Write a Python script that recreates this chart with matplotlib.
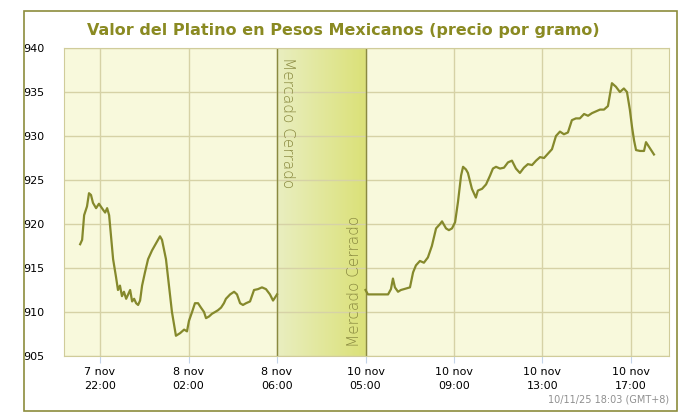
import matplotlib
matplotlib.use("Agg")
import matplotlib.pyplot as plt
import numpy as np
from matplotlib.patches import Rectangle
from matplotlib.colors import LinearSegmentedColormap

# hours relative to 7 nov 22:00 (closed period compressed to 4h between 8.0 and 12.0)
t1 = [-0.9,-0.81,-0.72,-0.59,-0.5,-0.41,-0.32,-0.18,-0.05,0.14,0.23,0.32,0.41,0.5,0.59,0.72,0.81,0.9,0.99,1.08,1.18,1.27,1.36,1.45,1.54,1.63,1.72,1.81,1.9,2.03,2.17,2.35,2.53,2.71,2.8,2.98,3.07,3.25,3.43,3.62,3.8,3.93,4.02,4.16,4.29,4.43,4.56,4.7,4.79,4.93,5.06,5.2,5.33,5.47,5.6,5.69,5.88,6.06,6.19,6.33,6.46,6.6,6.78,6.96,7.14,7.32,7.5,7.68,7.82,7.95,8.0]
v1 = [917.7,918.2,921,922,923.5,923.3,922.4,921.8,922.3,921.6,921.3,921.8,921,918.5,916,914,912.5,913,911.8,912.3,911.5,912,912.5,911.2,911.5,911,910.8,911.3,913,914.5,916,917,917.8,918.6,918.2,916,914,910,907.3,907.6,908,907.8,909,910,911,911,910.5,910,909.3,909.5,909.8,910,910.2,910.5,911,911.5,912,912.3,912,911,910.8,911,911.2,912.5,912.6,912.8,912.6,912,911.3,911.8,912]
t2 = [12.0,12.11,12.29,12.47,12.66,12.84,13.02,13.15,13.24,13.33,13.47,13.6,13.74,14.01,14.15,14.28,14.46,14.64,14.82,15.0,15.19,15.37,15.46,15.64,15.77,15.91,16.05,16.18,16.32,16.41,16.54,16.63,16.81,16.99,17.08,17.27,17.45,17.63,17.76,17.9,18.08,18.26,18.44,18.62,18.8,18.98,19.16,19.34,19.53,19.71,19.89,20.07,20.25,20.43,20.61,20.79,20.97,21.15,21.33,21.51,21.69,21.88,22.06,22.24,22.42,22.6,22.78,22.96,23.14,23.32,23.5,23.68,23.82,23.95,24.05,24.14,24.23,24.41,24.59,24.68,24.86,25.04]
v2 = [912.5,912,912,912,912,912,912,912.6,913.8,912.8,912.3,912.5,912.6,912.8,914.5,915.3,915.8,915.6,916.2,917.5,919.5,920,920.3,919.5,919.3,919.5,920.2,922.5,925.5,926.5,926.2,925.8,924,923,923.8,924,924.5,925.5,926.3,926.5,926.3,926.4,927,927.2,926.3,925.8,926.4,926.8,926.7,927.2,927.6,927.5,928,928.5,930,930.5,930.2,930.4,931.8,932,932,932.5,932.3,932.6,932.8,933,933,933.4,936,935.6,935,935.4,935,933,931,929.5,928.4,928.3,928.3,929.3,928.6,927.9]
tick_pos = [0, 4, 8, 12, 16, 20, 24]
tick_labels = ["7 nov\n22:00", "8 nov\n02:00", "8 nov\n06:00", "10 nov\n05:00", "10 nov\n09:00", "10 nov\n13:00", "10 nov\n17:00"]
closed = (8.0, 12.0)

olive = "#85892c"
fig = plt.figure(figsize=(6.87, 4.16), dpi=100)
fig.patches.append(Rectangle((24/687, 5/416), 653/687, 400/416, transform=fig.transFigure,
                             fill=False, edgecolor="#8c8c3c", lw=1.2))
ax = fig.add_axes([64/687, 60/416, 605/687, 308/416])
ax.set_facecolor("#f8f9dc")
ax.set_xlim(-1.63, 25.72)
ax.set_ylim(905, 940)
grad = np.linspace(0, 1, 100).reshape(1, -1)
cm = LinearSegmentedColormap.from_list("g", ["#e9eec0", "#dbe178"])
ax.imshow(grad, extent=[closed[0], closed[1], 905, 940], aspect="auto", cmap=cm, zorder=0.5)
ax.axvline(closed[0], color="#8a8a40", lw=1, zorder=1)
ax.axvline(closed[1], color="#8a8a40", lw=1, zorder=1)
ax.set_yticks([905, 910, 915, 920, 925, 930, 935, 940])
ax.set_xticks(tick_pos)
ax.set_xticklabels(tick_labels, fontsize=8, linespacing=1.5)
ax.grid(True, color="#d6d2a6", lw=1, zorder=0.6)
ax.set_axisbelow(True)
for s in ax.spines.values():
    s.set_color("#d0cc9a")
ax.tick_params(axis="y", length=0, pad=14, labelsize=8)
ax.tick_params(axis="x", length=5, color="#c4d4e8", labelsize=8, pad=3)
ax.plot(t1, v1, color=olive, lw=1.6, zorder=3)
ax.plot(t2, v2, color=olive, lw=1.6, zorder=3)
ax.text(closed[0] + 0.15, 939, "Mercado Cerrado", rotation=-90, va="top", ha="left",
        fontsize=11, color="#8a8a40", fontweight="light", zorder=4)
ax.text(closed[1] - 0.15, 906, "Mercado Cerrado", rotation=90, va="bottom", ha="right",
        fontsize=11, color="#8a8a40", fontweight="light", zorder=4)
fig.text(0.5, 385/416, "Valor del Platino en Pesos Mexicanos (precio por gramo)",
         ha="center", va="center", fontsize=11.5, fontweight="bold", color="#8a8a22")
fig.text(669/687, 16/416, "10/11/25 18:03 (GMT+8)", ha="right", va="center", fontsize=7, color="#909090")
fig.savefig("out.png", dpi=100)
